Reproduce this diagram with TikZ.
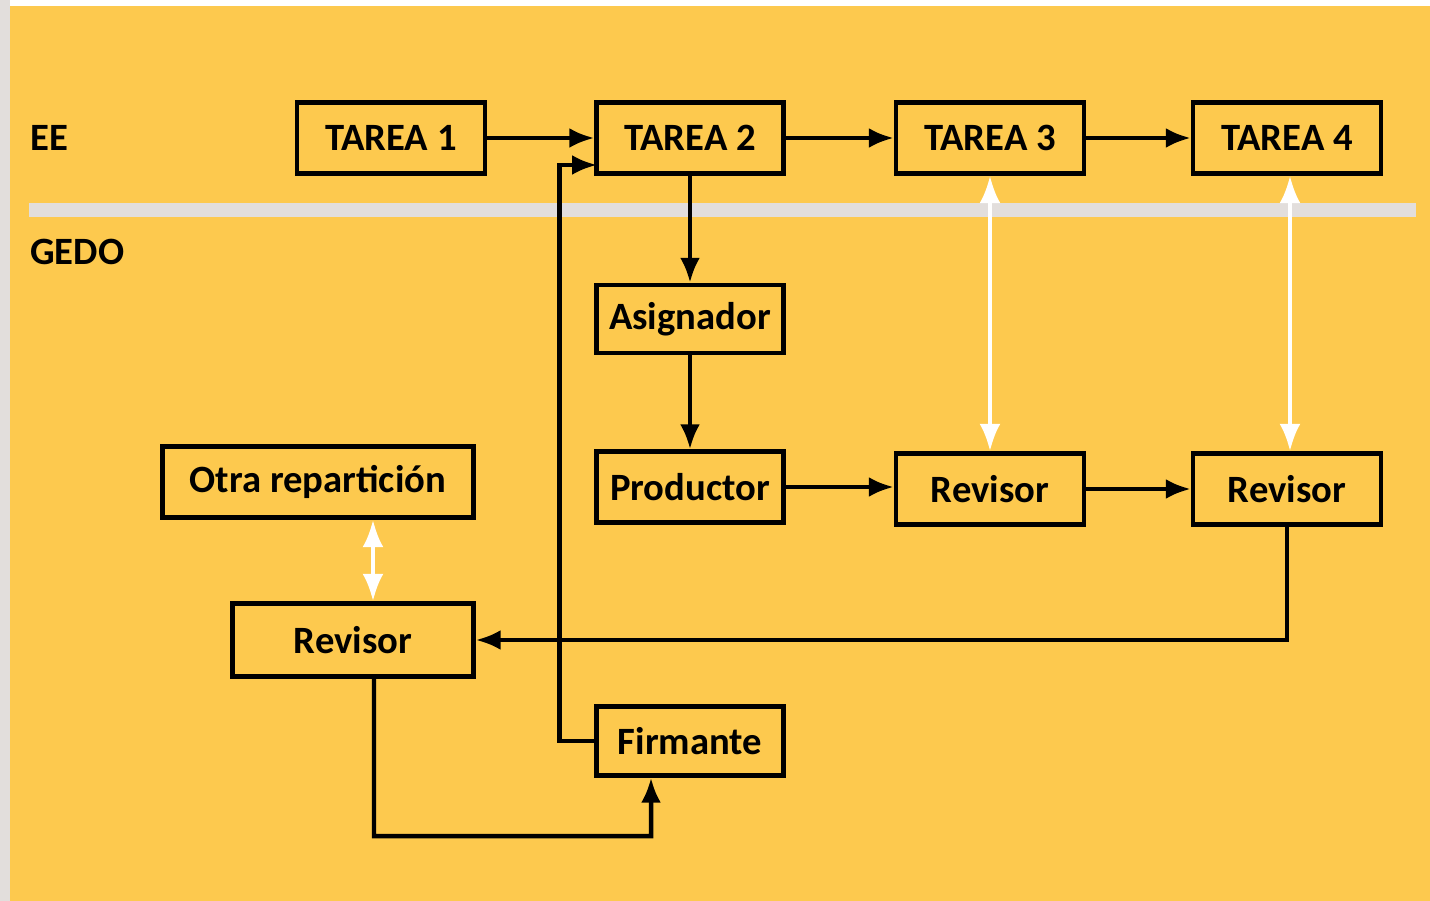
\documentclass[tikz,border=0pt]{standalone}
\usepackage{fontspec}
\setmainfont{Carlito}
\usetikzlibrary{arrows.meta}
\definecolor{fondo}{RGB}{253,201,78}
\definecolor{franja}{RGB}{226,222,220}

\begin{document}
\begin{tikzpicture}[x=0.02cm, y=-0.02cm,
  every node/.style={font=\fontsize{22}{26}\selectfont\bfseries},
  caja/.style={draw, line width=0.09cm, inner sep=0pt, minimum height=1.42cm},
  flecha/.style={line width=0.09cm, -{Latex[length=0.5cm, width=0.4cm]}},
  doble/.style={white, line width=0.08cm, {Latex[length=0.55cm, width=0.42cm]}-{Latex[length=0.55cm, width=0.42cm]}}]
\useasboundingbox (0,0) rectangle (1430,901);
\fill[white] (0,0) rectangle (1430,901);
\fill[franja] (0,0) rectangle (10,901);
\fill[fondo] (10,6) rectangle (1430,901);
\fill[franja] (29,203) rectangle (1416,217);
\node[anchor=west] (EE) at (24,138) {EE};
\node[anchor=west] (GEDO) at (24,252) {GEDO};
\node[caja, minimum width=3.76cm] (T1) at (391,138) {TAREA 1};
\node[caja, minimum width=3.74cm] (T2) at (690,138) {TAREA 2};
\node[caja, minimum width=3.76cm] (T3) at (990,138) {TAREA 3};
\node[caja, minimum width=3.76cm] (T4) at (1287,138) {TAREA 4};
\node[caja, minimum width=3.74cm, minimum height=1.36cm] (asig) at (690,319) {Asignador};
\node[caja, minimum width=3.74cm] (prod) at (690,487) {Productor};
\node[caja, minimum width=3.76cm] (rev3) at (990,489) {Revisor};
\node[caja, minimum width=3.76cm] (rev4) at (1287,489) {Revisor};
\node[caja, minimum width=6.22cm] (otra) at (318,482) {Otra repartición};
\node[caja, minimum width=4.82cm, minimum height=1.46cm] (revL) at (353,640) {Revisor};
\node[caja, minimum width=3.74cm, minimum height=1.38cm] (firm) at (690,741) {Firmante};
\coordinate (T2in) at (597,165);
\draw[flecha] (T1) -- (T2);
\draw[flecha] (T2) -- (T3);
\draw[flecha] (T3) -- (T4);
\draw[flecha] (T2) -- (asig);
\draw[flecha] (asig) -- (prod);
\draw[flecha] (prod.east) -- (prod.east -| rev3.west);
\draw[flecha] (rev3) -- (rev4);
\draw[flecha] (rev4.south) |- (revL.east);
\draw[flecha] ([xshift=0.42cm]revL.south) |- (651,836) -- ([xshift=-0.78cm]firm.south);
\draw[flecha] (firm.west) -- ++(-35,0) |- (T2in);
\draw[doble] (T3.south) -- (rev3.north);
\draw[doble] ([xshift=0.06cm]T4.south) -- ([xshift=0.06cm]rev4.north);
\draw[doble] ([xshift=0.4cm]revL.north) -- ([xshift=0.4cm]revL.north |- otra.south);
\end{tikzpicture}
\end{document}
